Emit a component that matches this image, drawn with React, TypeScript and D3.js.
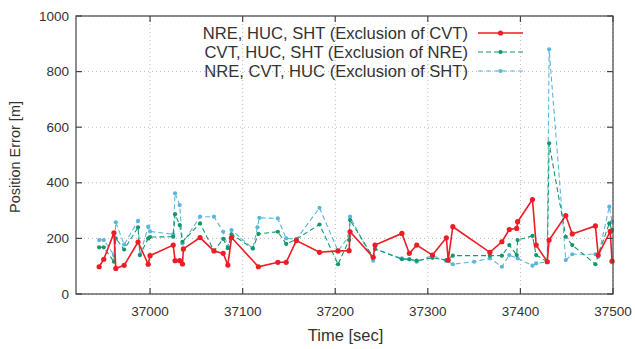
import React from "react";
import * as d3 from "d3";

const xTicks = [37000, 37100, 37200, 37300, 37400, 37500];
const yTicks = [0, 200, 400, 600, 800, 1000];

const seriesNames = [
  "NRE, HUC, SHT (Exclusion of CVT)",
  "CVT, HUC, SHT (Exclusion of NRE)",
  "NRE, CVT, HUC (Exclusion of SHT)",
];

const redT = [36945, 36950, 36961, 36963, 36972, 36987, 36998, 37000, 37025, 37027, 37032, 37035, 37036, 37054, 37069, 37079, 37084, 37088, 37117, 37138, 37147, 37158, 37183, 37203, 37215, 37216, 37241, 37243, 37272, 37280, 37288, 37305, 37320, 37322, 37327, 37367, 37380, 37388, 37396, 37397, 37413, 37417, 37429, 37431, 37449, 37456, 37481, 37484, 37497, 37499];
const redV = [98, 125, 220, 92, 103, 187, 107, 138, 176, 120, 120, 108, 162, 203, 155, 146, 104, 203, 98, 114, 114, 192, 150, 155, 156, 224, 132, 176, 218, 146, 176, 140, 202, 122, 242, 150, 188, 232, 236, 260, 340, 176, 116, 194, 282, 216, 245, 140, 225, 118];

const greenT = [36945, 36950, 36961, 36963, 36972, 36987, 36989, 36998, 37000, 37025, 37027, 37032, 37035, 37054, 37069, 37079, 37084, 37088, 37111, 37117, 37138, 37147, 37158, 37183, 37203, 37215, 37216, 37241, 37243, 37272, 37280, 37288, 37305, 37320, 37327, 37367, 37380, 37388, 37396, 37397, 37413, 37417, 37429, 37431, 37449, 37456, 37481, 37484, 37496, 37499];
const greenV = [168, 168, 116, 200, 160, 240, 140, 200, 205, 206, 287, 248, 188, 254, 155, 198, 165, 215, 164, 216, 224, 180, 197, 250, 107, 194, 266, 132, 162, 125, 125, 120, 130, 122, 138, 138, 138, 176, 140, 194, 209, 140, 116, 542, 206, 176, 107, 140, 254, 230];

const cyanT = [36945, 36950, 36961, 36963, 36972, 36987, 36989, 36998, 37000, 37025, 37027, 37032, 37035, 37054, 37069, 37079, 37084, 37088, 37111, 37116, 37118, 37138, 37147, 37158, 37183, 37203, 37215, 37216, 37241, 37243, 37272, 37280, 37288, 37305, 37320, 37327, 37350, 37367, 37380, 37388, 37397, 37413, 37417, 37429, 37431, 37449, 37456, 37481, 37484, 37496, 37499];
const cyanV = [194, 194, 140, 258, 178, 263, 140, 242, 225, 215, 362, 320, 182, 278, 278, 224, 170, 230, 164, 240, 274, 272, 200, 197, 310, 155, 209, 278, 120, 162, 128, 125, 116, 138, 119, 107, 116, 128, 98, 140, 128, 102, 110, 116, 880, 122, 143, 143, 134, 314, 260];

const W = 635;
const H = 349;
const L = 76, R = 613, T = 16, B = 294;

export default function App() {
  const x = d3.scaleLinear().domain([36920, 37500]).range([L, R]);
  const y = d3.scaleLinear().domain([0, 1000]).range([B, T]);

  const series = [
    { t: redT, v: redV, color: "#ee1c24", dash: null, width: 1.6, r: 2.6 },
    { t: greenT, v: greenV, color: "#12986c", dash: "5,3", width: 1.1, r: 2.1 },
    { t: cyanT, v: cyanV, color: "#5ab6dc", dash: "5,3", width: 1.1, r: 2.1 },
  ];

  const line = d3
    .line<[number, number]>()
    .x((d) => x(d[0]))
    .y((d) => y(d[1]));

  const axisColor = "#444";
  const font = "'Liberation Sans', Arial, sans-serif";
  const tickLen = 6;

  const order = [2, 1, 0];

  return (
    <div style={{ position: "absolute", left: 0, top: 0 }}>
      <svg width={W} height={H} style={{ display: "block", background: "#fff" }}>
        {xTicks.map((t) => (
          <line key={"gx" + t} x1={x(t)} x2={x(t)} y1={T} y2={B} stroke="#bbb" strokeWidth={1} strokeDasharray="1,3" />
        ))}
        {yTicks.map((t) => (
          <line key={"gy" + t} x1={L} x2={R} y1={y(t)} y2={y(t)} stroke="#bbb" strokeWidth={1} strokeDasharray="1,3" />
        ))}

        {order.map((i) => {
          const s = series[i];
          const pts: [number, number][] = s.t.map((t, k) => [t, s.v[k]]);
          return (
            <g key={"s" + i}>
              <path d={line(pts) || ""} fill="none" stroke={s.color} strokeWidth={s.width} strokeDasharray={s.dash || undefined} />
              {pts.map((p, k) => (
                <circle key={k} cx={x(p[0])} cy={y(p[1])} r={s.r} fill={s.color} />
              ))}
            </g>
          );
        })}

        <rect x={L} y={T} width={R - L} height={B - T} fill="none" stroke={axisColor} strokeWidth={1.2} />

        {xTicks.map((t) => (
          <g key={"tx" + t}>
            <line x1={x(t)} x2={x(t)} y1={B} y2={B - tickLen} stroke={axisColor} strokeWidth={1.2} />
            <line x1={x(t)} x2={x(t)} y1={T} y2={T + tickLen} stroke={axisColor} strokeWidth={1.2} />
            <text x={x(t)} y={316} textAnchor="middle" fontSize={13.5} fontFamily={font} fill="#333">
              {t}
            </text>
          </g>
        ))}
        {yTicks.map((t) => (
          <g key={"ty" + t}>
            <line x1={L} x2={L + tickLen} y1={y(t)} y2={y(t)} stroke={axisColor} strokeWidth={1.2} />
            <line x1={R} x2={R - tickLen} y1={y(t)} y2={y(t)} stroke={axisColor} strokeWidth={1.2} />
            <text x={69} y={y(t) + 4.5} textAnchor="end" fontSize={13.5} fontFamily={font} fill="#333">
              {t}
            </text>
          </g>
        ))}

        <text x={(L + R) / 2 + 1} y={341} textAnchor="middle" fontSize={16.5} fontFamily={font} fill="#333">
          Time [sec]
        </text>
        <text
          transform={`translate(20, ${(T + B) / 2 + 2}) rotate(-90)`}
          textAnchor="middle"
          fontSize={14.5}
          fontFamily={font}
          fill="#333"
        >
          Position Error [m]
        </text>

        {series.map((s, i) => {
          const ly = 33 + i * 19;
          return (
            <g key={"lg" + i}>
              <text x={468} y={ly + 6} textAnchor="end" fontSize={16.6} fontFamily={font} fill="#333">
                {seriesNames[i]}
              </text>
              <line x1={478} x2={523} y1={ly} y2={ly} stroke={s.color} strokeWidth={s.width} strokeDasharray={s.dash || undefined} />
              <circle cx={500.5} cy={ly} r={s.r} fill={s.color} />
            </g>
          );
        })}
      </svg>
    </div>
  );
}
